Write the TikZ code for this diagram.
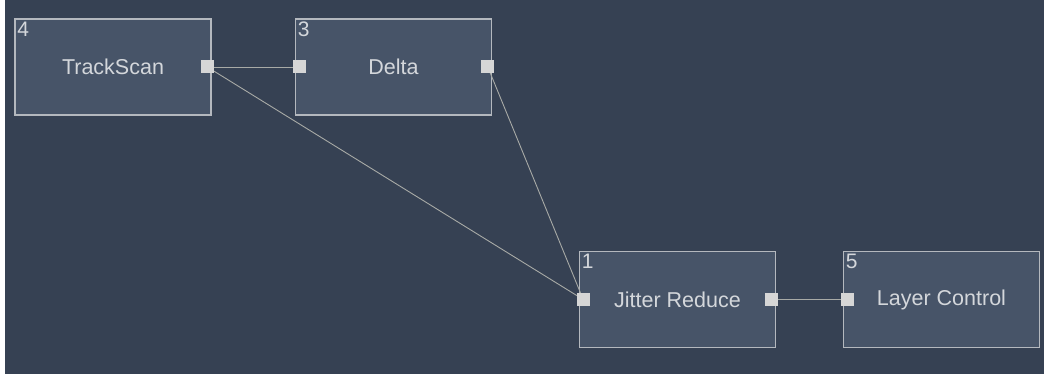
\documentclass[tikz,border=0pt]{standalone}
\usepackage{fontspec}
\setmainfont{Liberation Sans}
\usetikzlibrary{positioning,calc}
\definecolor{gbg}{HTML}{364153}
\definecolor{gbox}{HTML}{475468}
\definecolor{gedge}{HTML}{B4B8BE}
\definecolor{gtext}{HTML}{D4D7DB}
\definecolor{gport}{HTML}{D6D6D6}
\definecolor{gwire}{HTML}{A8AAA6}
\tikzset{
  blk/.style  ={rectangle, draw=gedge, line width=1.6pt, fill=gbox, text=gtext,
                font=\fontsize{21.5}{24}\selectfont, minimum width=196pt,
                minimum height=96pt, inner sep=0pt},
  idx/.style  ={anchor=north west, text=gtext, font=\fontsize{21}{24}\selectfont,
                inner sep=0pt},
  port/.style ={rectangle, fill=gport, minimum size=13pt, inner sep=0pt},
  wire/.style ={draw=gwire, line width=0.9pt}
}
\begin{document}
\begin{tikzpicture}[x=1pt,y=-1pt]
  \useasboundingbox (0,0) rectangle (1044,374);
  \fill[white] (0,0) rectangle (1044,374);
  \fill[gbg] (5,0) rectangle (1044,374);
  % --- blocks
  \node[blk] (scan)  at (113,67)    {TrackScan};
  \node[blk] (delta) at (393.5,67)  {Delta};
  \node[blk] (jit)   at (677.5,299.5) {Jitter Reduce};
  \node[blk] (layer) at (941.5,299.5) {Layer Control};
  % --- block numbers
  \node[idx] (scan-id)  at ([shift={(3,3.5)}]scan.north west)  {4};
  \node[idx] (delta-id) at ([shift={(3,3.5)}]delta.north west) {3};
  \node[idx] (jit-id)   at ([shift={(3,3.5)}]jit.north west)   {1};
  \node[idx] (layer-id) at ([shift={(3,3.5)}]layer.north west) {5};
  % --- wires
  \coordinate (scan-o)  at ([xshift=-4.5]scan.east);
  \coordinate (delta-i) at ([xshift=4.5]delta.west);
  \coordinate (delta-o) at ([xshift=-4.5]delta.east);
  \coordinate (jit-i)   at ([xshift=4.5]jit.west);
  \coordinate (jit-o)   at ([xshift=-4.5]jit.east);
  \coordinate (layer-i) at ([xshift=4.5]layer.west);
  \draw[wire] (scan-o) -- (delta-i);
  \draw[wire] (scan-o) -- (jit-i);
  \draw[wire] (delta-o) -- (jit-i);
  \draw[wire] (jit-o) -- (layer-i);
  % --- ports
  \node[port] (scan-out)  at (scan-o)  {};
  \node[port] (delta-in)  at (delta-i) {};
  \node[port] (delta-out) at (delta-o) {};
  \node[port] (jit-in)    at (jit-i)   {};
  \node[port] (jit-out)   at (jit-o)   {};
  \node[port] (layer-in)  at (layer-i) {};
\end{tikzpicture}
\end{document}
